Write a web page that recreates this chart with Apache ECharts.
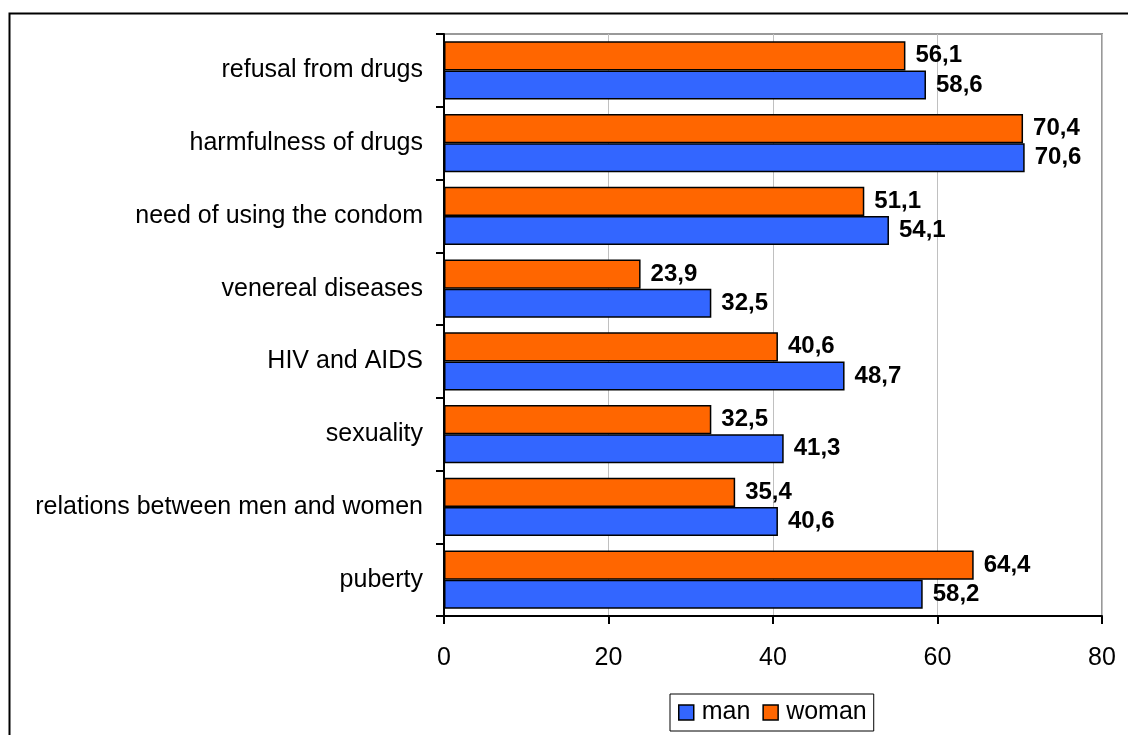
<!DOCTYPE html>
<html>
<head>
<meta charset="utf-8">
<script src="https://cdn.jsdelivr.net/npm/echarts@6/dist/echarts.min.js"></script>
<style>
  html, body { margin: 0; padding: 0; background: #fff; }
  #chart { width: 1128px; height: 735px; }
</style>
</head>
<body>
<div id="chart"></div>
<script>
// categories listed bottom to top (category axis draws first item at bottom)
const categories = [
  'puberty',
  'relations between men and women',
  'sexuality',
  'HIV and AIDS',
  'venereal diseases',
  'need of using the condom',
  'harmfulness of drugs',
  'refusal from drugs'
];
const manValues   = [58.2, 40.6, 41.3, 48.7, 32.5, 54.1, 70.6, 58.6];
const womanValues = [64.4, 35.4, 32.5, 40.6, 23.9, 51.1, 70.4, 56.1];
const xTicks = { min: 0, max: 80, interval: 20 };
const seriesNames = ['man', 'woman'];

const FONT = 'Arial, "Liberation Sans", sans-serif';
const chart = echarts.init(document.getElementById('chart'), null, { renderer: 'canvas' });

function valueLabel(p) { return String(p.value.toFixed(1)).replace('.', ','); }

const labelStyle = {
  show: true,
  position: 'right',
  distance: 10,
  formatter: valueLabel,
  color: '#000',
  fontFamily: FONT,
  fontWeight: 'bold',
  fontSize: 24
};

chart.setOption({
  animation: false,
  backgroundColor: '#fff',
  graphic: [{
    type: 'rect',
    left: 7, top: 11,
    shape: { x: 0, y: 0, width: 1140, height: 740 },
    style: { fill: 'none', stroke: '#000', lineWidth: 2 },
    silent: true, z: 100
  }],
  grid: {
    left: 444, top: 34, width: 658, height: 582,
    show: true,
    borderColor: '#999',
    borderWidth: 2,
    backgroundColor: 'transparent'
  },
  legend: {
    data: seriesNames,
    left: 670, top: 694,
    orient: 'horizontal',
    itemWidth: 15, itemHeight: 15,
    itemGap: 12,
    padding: [6, 7, 6, 8],
    borderColor: '#000', borderWidth: 1,
    textStyle: { fontFamily: FONT, fontSize: 25, color: '#000', padding: [0, 0, 0, 3] },
    icon: 'rect',
    itemStyle: { borderColor: '#000', borderWidth: 1.5 }
  },
  xAxis: {
    type: 'value',
    min: xTicks.min, max: xTicks.max, interval: xTicks.interval,
    axisLine: { show: true, lineStyle: { color: '#000', width: 2 } },
    axisTick: { show: true, length: 8, lineStyle: { color: '#000', width: 2 } },
    axisLabel: { fontFamily: FONT, fontSize: 25, color: '#000', margin: 30 },
    splitLine: { show: true, lineStyle: { color: '#c0c0c0', width: 1 } }
  },
  yAxis: {
    type: 'category',
    data: categories,
    axisLine: { show: true, lineStyle: { color: '#000', width: 2 } },
    axisTick: { show: true, length: 8, lineStyle: { color: '#000', width: 2 } },
    axisLabel: { fontFamily: FONT, fontSize: 25, color: '#000', margin: 21, padding: [6, 0, 0, 0] },
    splitLine: { show: false }
  },
  series: [
    {
      name: 'woman',
      type: 'bar',
      data: womanValues,
      barGap: '0%',
      barCategoryGap: '20%',
      itemStyle: { color: '#FF6600', borderColor: '#000', borderWidth: 1.5 },
      label: labelStyle
    },
    {
      name: 'man',
      type: 'bar',
      data: manValues,
      barGap: '0%',
      barCategoryGap: '20%',
      itemStyle: { color: '#3366FF', borderColor: '#000', borderWidth: 1.5 },
      label: labelStyle
    }
  ]
});
</script>
</body>
</html>
